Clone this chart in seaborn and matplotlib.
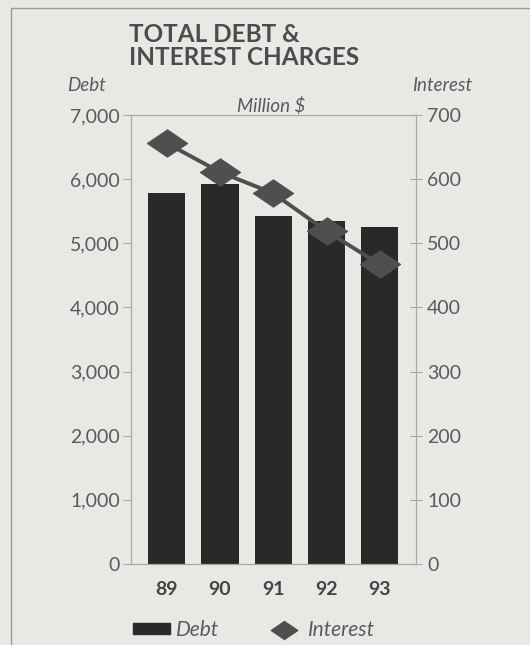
import numpy as np
import pandas as pd
import matplotlib
matplotlib.use("Agg")
import matplotlib.pyplot as plt
from matplotlib.path import Path
from matplotlib.patches import Patch
from matplotlib.lines import Line2D
import seaborn as sns

years = ["89", "90", "91", "92", "93"]
debt = [5780, 5920, 5420, 5340, 5250]          # million $
interest = [656, 611, 578, 519, 467]           # million $
debt_ticks = [0, 1000, 2000, 3000, 4000, 5000, 6000, 7000]
interest_ticks = [0, 100, 200, 300, 400, 500, 600, 700]

sns.set_theme(style="white")
plt.rcParams["font.family"] = ["Lato", "DejaVu Sans"]

BG = "#e8e8e4"
TXT = "#5a5a5a"
BAR = "#292929"
MARK = "#4f4f4f"
SPINE = "#a8a8a8"

df = pd.DataFrame({"year": years, "debt": debt, "interest": interest})

fig = plt.figure(figsize=(5.30, 6.45), dpi=100, facecolor=BG)
ax = fig.add_axes([131 / 530, 1 - 564 / 645, (416 - 131) / 530, (564 - 115) / 645])
ax.set_facecolor(BG)

sns.barplot(data=df, x="year", y="debt", order=years, color=BAR,
            saturation=1, width=0.7, ax=ax, zorder=2,
            edgecolor=BAR, linewidth=0)
ax.set_ylim(0, 7000)
ax.set_xlim(-0.67, 4.68)
ax.set_yticks(debt_ticks)
ax.set_yticklabels([f"{v:,}" for v in debt_ticks])
ax.set_xlabel("")
ax.set_ylabel("")
ax.tick_params(axis="y", left=True, length=6, width=0.8, color=SPINE,
               pad=2, labelsize=14, labelcolor=TXT)
ax.tick_params(axis="x", bottom=False, pad=6, labelsize=14, labelcolor="#444444")
for lab in ax.get_xticklabels():
    lab.set_fontweight("bold")
for s in ax.spines.values():
    s.set_color(SPINE)
    s.set_linewidth(0.8)

# Interest on the secondary axis, wide diamond markers joined by a line
diamond = Path([(-1, 0), (0, 0.68), (1, 0), (0, -0.68), (-1, 0)],
               [Path.MOVETO, Path.LINETO, Path.LINETO, Path.LINETO, Path.CLOSEPOLY])
ax2 = ax.twinx()
sns.lineplot(x=np.arange(len(years)), y=interest, ax=ax2, color=MARK,
             linewidth=2.8, marker=diamond, markersize=29,
             markerfacecolor=MARK, markeredgecolor=MARK, zorder=3)
ax2.set_ylim(0, 700)
ax2.set_xlim(-0.67, 4.68)
ax2.set_yticks(interest_ticks)
ax2.set_yticklabels([str(v) for v in interest_ticks])
ax2.tick_params(axis="y", right=True, direction="inout", length=8, width=0.8,
                color=SPINE, pad=4, labelsize=14, labelcolor=TXT)
for s in ax2.spines.values():
    s.set_color(SPINE)
    s.set_linewidth(0.8)

# Titles and axis captions
fig.text(129 / 530, 1 - 42 / 645, "TOTAL DEBT &", ha="left", va="baseline",
         fontsize=17.5, fontweight="bold", color="#4c4c4c")
fig.text(129 / 530, 1 - 65 / 645, "INTEREST CHARGES", ha="left", va="baseline",
         fontsize=17.5, fontweight="bold", color="#4c4c4c")
fig.text(67 / 530, 1 - 91 / 645, "Debt", ha="left", va="baseline",
         fontsize=13.5, style="italic", color=TXT)
fig.text(472 / 530, 1 - 91 / 645, "Interest", ha="right", va="baseline",
         fontsize=13.5, style="italic", color=TXT)
fig.text(271 / 530, 1 - 112 / 645, "Million $", ha="center", va="baseline",
         fontsize=13.5, style="italic", color=TXT)

# Legend
handles = [Patch(facecolor=BAR, edgecolor=BAR, label="Debt"),
           Line2D([], [], color=MARK, linestyle="none", marker=diamond,
                  markersize=19, markerfacecolor=MARK, label="Interest")]
leg = fig.legend(handles=handles, loc="center left",
                 bbox_to_anchor=(114 / 530, 1 - 630 / 645),
                 ncol=2, frameon=False, fontsize=15, handlelength=1.78,
                 handleheight=0.38, columnspacing=2.2, handletextpad=0.3)
for t in leg.get_texts():
    t.set_color(TXT)
    t.set_style("italic")

# Outer page frame
fig.add_artist(Line2D([11 / 530, 11 / 530], [0, 1 - 8 / 645], transform=fig.transFigure,
                      color="#9a9a9a", linewidth=1.0))
fig.add_artist(Line2D([11 / 530, 1], [1 - 8 / 645, 1 - 8 / 645], transform=fig.transFigure,
                      color="#9a9a9a", linewidth=1.0))

fig.savefig("out.png", dpi=100, facecolor=BG)
